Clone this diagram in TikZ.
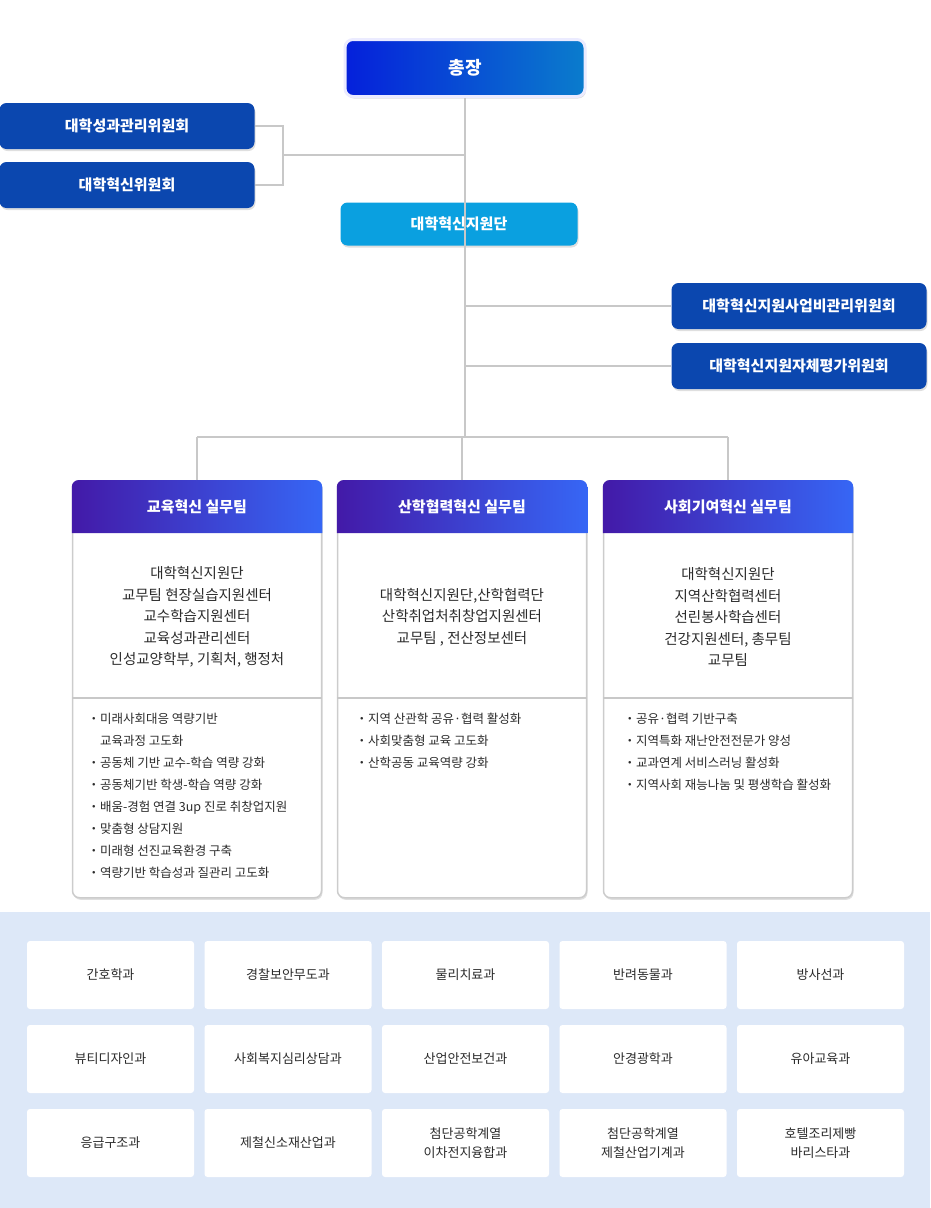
\documentclass[tikz,border=0pt]{standalone}
\usepackage{fontspec}
\setmainfont{Noto Sans CJK KR}
\usetikzlibrary{positioning}
\usetikzlibrary{shadows}
\definecolor{navy}{HTML}{0B47AF}
\definecolor{sky}{HTML}{0AA0E0}
\definecolor{linea}{HTML}{C8C8C8}
\definecolor{fondo}{HTML}{DDE8F8}
\definecolor{testoscuro}{HTML}{2B2B2B}
\begin{document}
\begin{tikzpicture}[x=1pt,y=-1pt,align=center,
ombra/.style={drop shadow={opacity=0.25,shadow xshift=1pt,shadow yshift=-2pt}},
comitato/.style={fill=navy,rounded corners=7pt,minimum width=255pt,minimum height=46pt,text=white,font=\fontsize{15}{18}\bfseries,ombra},
capo/.style={rounded corners=8pt,left color=blue!55!navy,right color=sky!60!navy,draw=blue!8,line width=3pt,minimum width=240pt,minimum height=57pt,text=white,font=\fontsize{18}{20}\bfseries,ombra},
centro/.style={fill=sky,rounded corners=7pt,minimum width=237pt,minimum height=43pt,text=white,font=\fontsize{15}{18}\bfseries,ombra},
squadra/.style={draw=black!20,line width=1.5pt,fill=white,rounded corners=7pt,minimum width=249pt,minimum height=417pt,anchor=north,ombra},
corpo/.style={text=testoscuro,font=\fontsize{14.5}{21.5}\selectfont},
punti/.style={text=testoscuro,font=\fontsize{12.5}{22}\selectfont,align=left,anchor=north west},
cella/.style={fill=white,rounded corners=3pt,minimum width=167pt,minimum height=68pt,text=testoscuro,font=\fontsize{13}{19}\selectfont},
linee/.style={draw=linea,line width=1.5pt}
]
\useasboundingbox (0,0) rectangle (930,1208);
\fill[fondo] (0,912) rectangle (930,1208);
%--
\node[capo](pres) at (465,68){총장};
\node[comitato](c1) at (127,126){대학성과관리위원회};
\node[comitato](c2) at (127,185){대학혁신위원회};
\node[centro](dir) at (459,224){대학혁신지원단};
\node[comitato](c3) at (799,306){대학혁신지원사업비관리위원회};
\node[comitato](c4) at (799,366){대학혁신지원자체평가위원회};
%--
\coordinate (snodo) at (283,155);
\coordinate (giu) at (465,437);
\begin{scope}[on background layer/.try]
\draw[linee] (pres.south) -- (giu);
\draw[linee] (c1.east) -| (snodo) |- (c2.east);
\draw[linee] (snodo) -- (snodo -| pres);
\draw[linee] (c3.west) -- (c3.west -| pres);
\draw[linee] (c4.west) -- (c4.west -| pres);
\end{scope}
%--
\foreach \nome/\x/\titolo in {t1/197/교육혁신 실무팀,t2/462/산학협력혁신 실무팀,t3/728/사회기여혁신 실무팀}{
\node[squadra](\nome) at (\x,480){};
\shade[left color=blue!55!violet!80!black!90,right color=sky!40!blue!80,rounded corners=7pt]
 (\nome.north west) -- (\nome.north east) [sharp corners] -- ([yshift=-53pt]\nome.north east) -- ([yshift=-53pt]\nome.north west) [rounded corners=7pt] -- cycle;
\node[text=white,font=\fontsize{15}{18}\bfseries](\nome h) at ([yshift=-27pt]\nome.north){\titolo};
\draw[linea,line width=1.5pt] ([yshift=-218pt]\nome.north west) -- ([yshift=-218pt]\nome.north east);
\draw[linee] (\nome.north) -- (\nome.north |- giu);
}
\draw[linee] (t1.north |- giu) -- (t3.north |- giu);
%--
\node[corpo](b1) at (197,617){대학혁신지원단\\교무팀 현장실습지원센터\\교수학습지원센터\\교육성과관리센터\\인성교양학부, 기획처, 행정처};
\node[corpo](b2) at (462,617){대학혁신지원단,산학협력단\\산학취업처취창업지원센터\\교무팀 , 전산정보센터};
\node[corpo](b3) at (728,617){대학혁신지원단\\지역산학협력센터\\선린봉사학습센터\\건강지원센터, 총무팀\\교무팀};
%--
\node[punti](p1) at (84,710){・미래사회대응 역량기반\\\phantom{・}교육과정 고도화\\・공동체 기반 교수-학습 역량 강화\\・공동체기반 학생-학습 역량 강화\\・배움-경험 연결 3up 진로 취창업지원\\・맞춤형 상담지원\\・미래형 선진교육환경 구축\\・역량기반 학습성과 질관리 고도화};
\node[punti](p2) at (352,710){・지역 산관학 공유·협력 활성화\\・사회맞춤형 교육 고도화\\・산학공동 교육역량 강화};
\node[punti](p3) at (620,710){・공유·협력 기반구축\\・지역특화 재난안전전문가 양성\\・교과연계 서비스러닝 활성화\\・지역사회 재능나눔 및 평생학습 활성화};
%--
\foreach \testo [count=\i from 0] in {간호학과,경찰보안무도과,물리치료과,반려동물과,방사선과,뷰티디자인과,사회복지심리상담과,산업안전보건과,안경광학과,유아교육과,응급구조과,제철신소재산업과,첨단공학계열\\이차전지융합과,첨단공학계열\\제철산업기계과,호텔조리제빵\\바리스타과}{
\pgfmathtruncatemacro{\col}{mod(\i,5)}
\pgfmathtruncatemacro{\riga}{div(\i,5)}
\node[cella](d\i) at (110.5+177.5*\col,975+84*\riga){\testo};
}
\end{tikzpicture}
\end{document}
